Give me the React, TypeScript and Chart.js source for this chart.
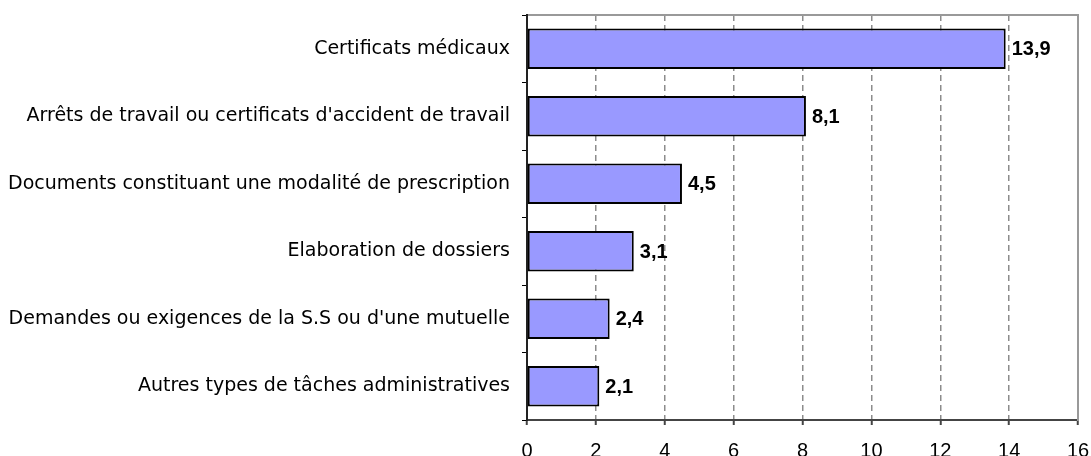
import React, { useEffect, useRef } from "react";
import { Chart, registerables } from "chart.js";

Chart.register(...registerables);

const categories: string[] = [
  "Certificats médicaux",
  "Arrêts de travail ou certificats d'accident de travail",
  "Documents constituant une modalité de prescription",
  "Elaboration de dossiers",
  "Demandes ou exigences de la S.S ou d'une mutuelle",
  "Autres types de tâches administratives",
];

const values: number[] = [13.9, 8.1, 4.5, 3.1, 2.4, 2.1];

const axisMin = 0;
const axisMax = 16;
const axisStep = 2;

const formatValue = (v: number) => v.toFixed(1).replace(".", ",");

const valueLabelPlugin = {
  id: "valueLabels",
  afterDatasetsDraw(chart: any) {
    const { ctx } = chart;
    const meta = chart.getDatasetMeta(0);
    ctx.save();
    ctx.font = "bold 20px 'Liberation Sans', Arial, sans-serif";
    ctx.fillStyle = "#000";
    ctx.textAlign = "left";
    ctx.textBaseline = "middle";
    meta.data.forEach((bar: any, i: number) => {
      ctx.fillText(formatValue(values[i]), bar.x + 6, bar.y + 1);
    });
    ctx.restore();
  },
};

const noPadX = (scale: any) => {
  scale.paddingLeft = 0;
  scale.paddingRight = 0;
};
const noPadY = (scale: any) => {
  scale.paddingTop = 0;
  scale.paddingBottom = 0;
};

export default function App() {
  const canvasRef = useRef<HTMLCanvasElement | null>(null);

  useEffect(() => {
    if (!canvasRef.current) return;
    const chart = new Chart(canvasRef.current, {
      type: "bar",
      data: {
        labels: categories,
        datasets: [
          {
            data: values,
            backgroundColor: "#9999FF",
            borderColor: "#000000",
            borderWidth: 2,
            borderSkipped: false,
            barPercentage: 0.6,
            categoryPercentage: 1,
          },
        ],
      },
      options: {
        indexAxis: "y",
        animation: false,
        responsive: false,
        devicePixelRatio: 1,
        layout: { padding: { top: 15, right: 13, left: 0, bottom: 0 } },
        plugins: {
          legend: { display: false },
          tooltip: { enabled: false },
          title: { display: false },
        },
        scales: {
          x: {
            type: "linear",
            position: "bottom",
            min: axisMin,
            max: axisMax,
            ticks: {
              stepSize: axisStep,
              padding: 14,
              color: "#000",
              font: { family: "'Liberation Sans', Arial, sans-serif", size: 20 },
            },
            grid: {
              color: "#8c8c8c",
              lineWidth: 1.5,
              drawTicks: true,
              tickLength: 5,
              tickColor: "#444444",
              tickWidth: 2,
            },
            border: { color: "#444444", width: 2, dash: [6, 4] },
            afterFit(scale: any) {
              scale.height = 36;
              noPadX(scale);
              noPadY(scale);
            },
          },
          xTop: {
            type: "linear",
            position: "top",
            min: axisMin,
            max: axisMax,
            ticks: { display: false },
            grid: { drawOnChartArea: false, drawTicks: false },
            border: { color: "#999999", width: 2 },
            afterFit(scale: any) {
              scale.height = 0;
              noPadX(scale);
              noPadY(scale);
            },
          },
          y: {
            type: "category",
            position: "left",
            offset: true,
            ticks: {
              padding: 12,
              color: "#000",
              font: { family: "'DejaVu Sans', sans-serif", size: 19 },
            },
            grid: {
              offset: true,
              drawOnChartArea: false,
              drawTicks: true,
              tickLength: 5,
              tickColor: "#000",
              tickWidth: 1,
            },
            border: { color: "#222222", width: 2 },
            afterFit(scale: any) {
              scale.width = 527;
              noPadX(scale);
              noPadY(scale);
            },
          },
          yRight: {
            type: "category",
            position: "right",
            offset: true,
            ticks: { display: false },
            grid: { drawOnChartArea: false, drawTicks: false },
            border: { color: "#999999", width: 2 },
            afterFit(scale: any) {
              scale.width = 0;
              noPadX(scale);
              noPadY(scale);
            },
          },
        },
      } as any,
      plugins: [valueLabelPlugin],
    });
    return () => chart.destroy();
  }, []);

  return (
    <div style={{ position: "absolute", left: 0, top: 0, width: 1091, height: 456, background: "#fff" }}>
      <canvas ref={canvasRef} width={1091} height={456} />
    </div>
  );
}
